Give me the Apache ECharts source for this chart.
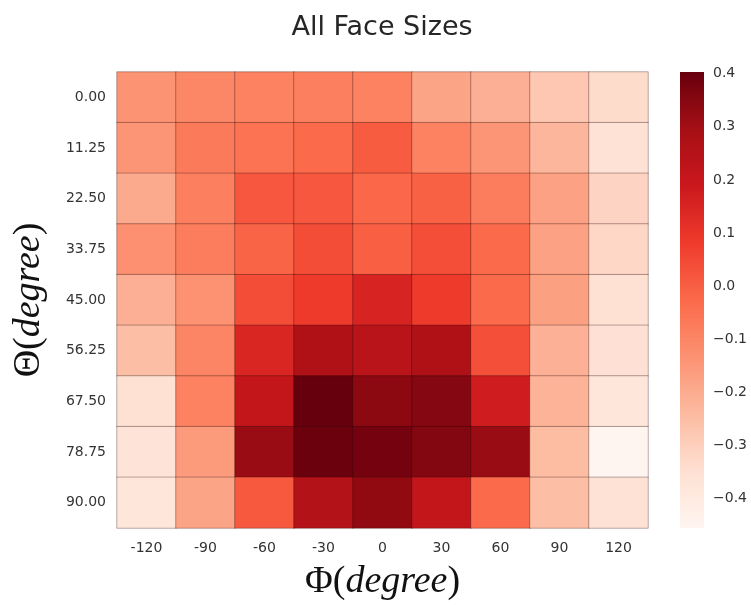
<!DOCTYPE html>
<html>
<head>
<meta charset="utf-8">
<script src="https://cdn.jsdelivr.net/npm/echarts@6/dist/echarts.min.js"></script>
<style>
  html, body { margin: 0; padding: 0; background: #fff; }
  #chart { width: 751px; height: 605px; }
</style>
</head>
<body>
<div id="chart"></div>
<script>
// Azimuth (Φ) columns and elevation (Θ) rows
const phiLabels = ['-120', '-90', '-60', '-30', '0', '30', '60', '90', '120'];
const thetaLabels = ['0.00', '11.25', '22.50', '33.75', '45.00', '56.25', '67.50', '78.75', '90.00'];

// One array per Θ row, values listed left to right over Φ
const row000 = [-0.138, -0.103, -0.090, -0.085, -0.090, -0.180, -0.210, -0.275, -0.335];
const row1125 = [-0.142, -0.069, -0.050, -0.030, 0.008, -0.090, -0.140, -0.228, -0.360];
const row2250 = [-0.197, -0.085, 0.017, 0.017, -0.022, -0.005, -0.077, -0.172, -0.314];
const row3375 = [-0.129, -0.077, -0.013, 0.043, 0.000, 0.038, -0.030, -0.172, -0.322];
const row4500 = [-0.210, -0.133, 0.043, 0.085, 0.154, 0.085, -0.030, -0.170, -0.352];
const row5625 = [-0.249, -0.099, 0.145, 0.266, 0.240, 0.266, 0.034, -0.215, -0.355];
const row6750 = [-0.352, -0.090, 0.210, 0.403, 0.339, 0.352, 0.176, -0.220, -0.378];
const row7875 = [-0.370, -0.155, 0.317, 0.395, 0.380, 0.356, 0.317, -0.245, -0.455];
const row9000 = [-0.378, -0.180, 0.013, 0.257, 0.330, 0.214, -0.025, -0.250, -0.360];

const rows = [row000, row1125, row2250, row3375, row4500, row5625, row6750, row7875, row9000];

// Colour bar tick values
const barTicks = [-0.4, -0.3, -0.2, -0.1, 0.0, 0.1, 0.2, 0.3, 0.4];

const cells = [];
rows.forEach((r, yi) => r.forEach((v, xi) => cells.push([xi, yi, v])));
const all = rows.flat();
const vMin = Math.min(...all);
const vMax = Math.max(...all);

// matplotlib "Reds" colour ramp
const reds = ['#fff5f0', '#fee0d2', '#fcbba1', '#fc9272', '#fb6a4a', '#ef3b2c', '#cb181d', '#a50f15', '#67000d'];

const GRID = { left: 117, top: 72, width: 531, height: 456 };
const BAR = { left: 680, top: 72, width: 24, height: 456 };
const txt = '#333333';
const sans = 'DejaVu Sans';
const serif = 'Liberation Serif';
const nameSize = 38;

const nameRich = {
  g: { fontFamily: serif, fontSize: nameSize, color: '#111' },
  p: { fontFamily: serif, fontSize: nameSize, color: '#111' },
  i: { fontFamily: serif, fontStyle: 'italic', fontSize: nameSize, color: '#111' }
};

// Colour bar body: the Reds ramp from the data minimum (bottom) to maximum (top)
const barFill = new echarts.graphic.LinearGradient(0, 1, 0, 0,
  reds.map((c, i) => ({ offset: i / (reds.length - 1), color: c })));

const chart = echarts.init(document.getElementById('chart'), null, { renderer: 'canvas' });
chart.setOption({
  backgroundColor: '#ffffff',
  animation: false,
  title: {
    text: 'All Face Sizes',
    left: 377,
    textAlign: 'center',
    top: 9,
    textStyle: { fontFamily: sans, fontSize: 27, fontWeight: 'normal', color: '#262626' }
  },
  grid: [
    { left: GRID.left, top: GRID.top, width: GRID.width, height: GRID.height, outerBoundsMode: 'none' },
    { left: BAR.left, top: BAR.top, width: BAR.width, height: BAR.height, outerBoundsMode: 'none' }
  ],
  xAxis: [
    {
      type: 'category',
      gridIndex: 0,
      data: phiLabels,
      axisLine: { show: false },
      axisTick: { show: false },
      splitLine: { show: false },
      axisLabel: { fontFamily: sans, fontSize: 14, color: txt, margin: 13 },
      name: '{g|Φ}{p|(}{i|degree}{p|)}',
      nameLocation: 'middle',
      nameGap: 35,
      nameTextStyle: { rich: nameRich }
    },
    {
      type: 'value',
      gridIndex: 1,
      show: false
    }
  ],
  yAxis: [
    {
      type: 'category',
      gridIndex: 0,
      inverse: true,
      data: thetaLabels,
      axisLine: { show: false },
      axisTick: { show: false },
      splitLine: { show: false },
      axisLabel: { fontFamily: sans, fontSize: 14, color: txt, margin: 11 },
      name: '{g|Θ}{p|(}{i|degree}{p|)}',
      nameLocation: 'middle',
      nameRotate: 90,
      nameGap: 69,
      nameTextStyle: { rich: nameRich }
    },
    {
      type: 'value',
      gridIndex: 1,
      position: 'right',
      min: vMin,
      max: vMax,
      axisLine: { show: false },
      axisTick: { show: false },
      splitLine: { show: false },
      axisLabel: {
        customValues: barTicks,
        fontFamily: sans,
        fontSize: 14,
        color: txt,
        margin: 9,
        formatter: v => (v < -1e-9 ? '\u2212' + Math.abs(v).toFixed(1) : Math.abs(v).toFixed(1))
      }
    }
  ],
  visualMap: {
    type: 'continuous',
    show: false,
    seriesIndex: 0,
    min: vMin,
    max: vMax,
    inRange: { color: reds }
  },
  graphic: [
    {
      type: 'rect',
      silent: true,
      shape: { x: BAR.left, y: BAR.top, width: BAR.width, height: BAR.height },
      style: { fill: barFill }
    }
  ],
  series: [
    {
      type: 'heatmap',
      xAxisIndex: 0,
      yAxisIndex: 0,
      data: cells,
      itemStyle: { borderColor: 'rgba(40,10,10,0.32)', borderWidth: 1 },
      emphasis: { disabled: true }
    }
  ]
});
</script>
</body>
</html>
